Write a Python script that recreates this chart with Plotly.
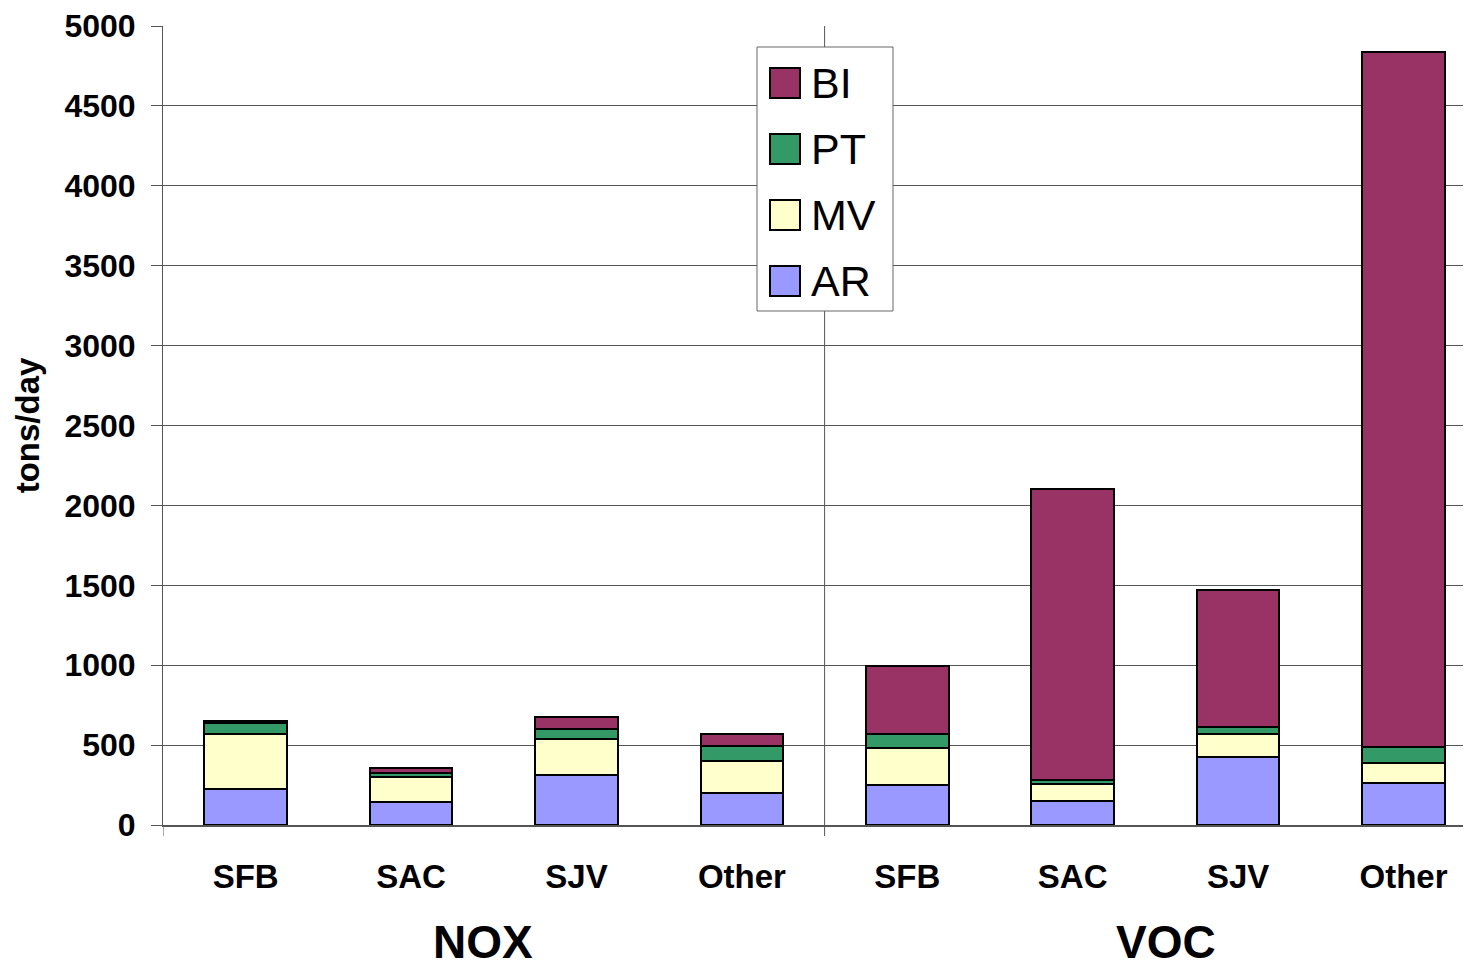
import plotly.graph_objects as go

# ---- data ----
pollutants = ["NOX", "VOC"]
regions = ["SFB", "SAC", "SJV", "Other"]
categories = regions + regions
series_names = ["AR", "MV", "PT", "BI"]
AR = [227, 146, 313, 198, 250, 152, 427, 261]
MV = [342, 152, 223, 204, 230, 105, 140, 129]
PT = [71, 25, 63, 92, 87, 25, 44, 100]
BI = [9, 34, 75, 73, 430, 1818, 859, 4345]
y_ticks = list(range(0, 5001, 500))

colors = {"AR": "#9999FF", "MV": "#FFFFCC", "PT": "#339966", "BI": "#993366"}
values = {"AR": AR, "MV": MV, "PT": PT, "BI": BI}

FONT = "Liberation Sans, Arial, sans-serif"
OFF = 8  # page body margin
W, H = 1471, 965
L, T = 163 - OFF, 26 - OFF
R = OFF
plot_bottom = 825 - OFF
B = H - plot_bottom
plot_w = W - L - R
plot_h = plot_bottom - T

xs = list(range(len(categories)))

fig = go.Figure()
for name in series_names:
    fig.add_trace(go.Bar(
        x=xs, y=values[name], name=name,
        marker=dict(color=colors[name], line=dict(color="black", width=2)),
        width=0.5, showlegend=False,
    ))

fig.update_layout(
    barmode="stack",
    width=W, height=H,
    margin=dict(l=L, r=R, t=T, b=B, autoexpand=False),
    plot_bgcolor="white", paper_bgcolor="white",
    font=dict(family=FONT, color="black"),
)

x_max = -0.5 + plot_w / 165.4
fig.update_xaxes(
    range=[-0.5, x_max], automargin=False,
    tickvals=xs, ticktext=categories,
    tickfont=dict(family=FONT, size=33, weight="bold", color="black"),
    ticks="", showgrid=False, zeroline=False,
    showline=True, linecolor="#555555", linewidth=2,
    ticklabelstandoff=21,
)
fig.update_yaxes(
    range=[0, 5000], tickvals=y_ticks, automargin=False,
    tickfont=dict(family=FONT, size=32, weight="bold", color="black"),
    showgrid=True, gridcolor="#555555", gridwidth=1,
    zeroline=False, showline=True, linecolor="#555555", linewidth=1,
    ticks="outside", ticklen=11, tickcolor="#555555",
    ticklabelstandoff=9,
    title=dict(text="tons/day", font=dict(family=FONT, size=33, weight="bold"), standoff=14),
)

# group divider and boundary ticks
n_per = len(regions)
for k in range(len(pollutants) + 1):
    xb = -0.5 + k * n_per
    if xb > x_max:
        continue
    y_top = 1 if k > 0 else 0
    fig.add_shape(type="line", xref="x", yref="paper", x0=xb, x1=xb,
                  y0=-11 / plot_h, y1=y_top, line=dict(color="#555555", width=1))

def px_x(px):
    return (px - OFF - L) / plot_w

def px_y(py):
    return (plot_bottom - (py - OFF)) / plot_h

# group labels
group_shift = [-11, 11]
for k, p in enumerate(pollutants):
    xc = -0.5 + k * n_per + n_per / 2
    fig.add_annotation(x=xc, xref="x", y=px_y(942), yref="paper", xshift=group_shift[k],
                       text=p, showarrow=False, xanchor="center", yanchor="middle",
                       font=dict(family=FONT, size=46, weight="bold", color="black"))

# manual legend (reversed order: BI on top)
fig.add_shape(type="rect", xref="paper", yref="paper",
              x0=px_x(757), x1=px_x(893), y0=px_y(311), y1=px_y(47),
              line=dict(color="#666666", width=1), fillcolor="white", layer="above")
for i, name in enumerate(reversed(series_names)):
    top = 68 + i * 66
    fig.add_shape(type="rect", xref="paper", yref="paper",
                  x0=px_x(770), x1=px_x(800), y0=px_y(top + 30), y1=px_y(top),
                  line=dict(color="black", width=2), fillcolor=colors[name], layer="above")
    fig.add_annotation(x=px_x(809), y=px_y(top + 15), xref="paper", yref="paper",
                       text=name, showarrow=False, xanchor="left", yanchor="middle",
                       font=dict(family=FONT, size=43, color="black"))

fig.write_html("out.html")
